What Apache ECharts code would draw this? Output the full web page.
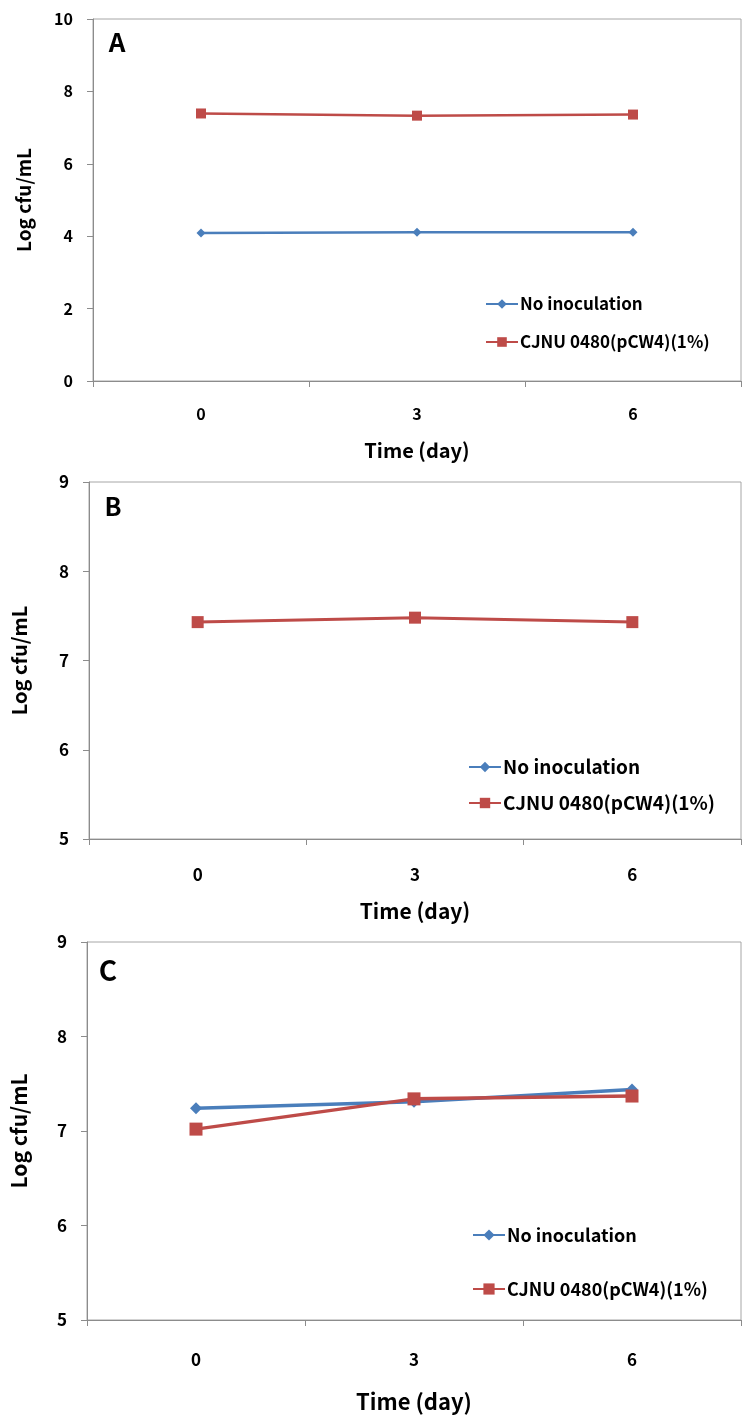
<!DOCTYPE html>
<html>
<head>
<meta charset="utf-8">
<script src="https://cdn.jsdelivr.net/npm/echarts@6/dist/echarts.min.js"></script>
<style>
  html, body { margin: 0; padding: 0; background: #fff; }
  #chart { width: 742px; height: 1423px; }
</style>
</head>
<body>
<div id="chart"></div>
<script>
// Sampling days (x categories)
const days = ['0', '3', '6'];

// Panel A
const aNoInoculation = [4.09, 4.11, 4.11];
const aCjnu = [7.39, 7.33, 7.36];
const aTicks = { min: 0, max: 10, interval: 2 };

// Panel B (no-inoculation counts not plotted)
const bNoInoculation = [];
const bCjnu = [7.43, 7.48, 7.43];
const bTicks = { min: 5, max: 9, interval: 1 };

// Panel C
const cNoInoculation = [7.24, 7.31, 7.44];
const cCjnu = [7.02, 7.34, 7.37];
const cTicks = { min: 5, max: 9, interval: 1 };

const panelLetters = ['A', 'B', 'C'];
const seriesNames = ['No inoculation', 'CJNU 0480(pCW4)(1%)'];

const FONT = '"Noto Sans CJK KR", "Noto Sans", sans-serif';
const BLUE = '#4A7EBB';
const RED = '#BE4B48';
const AXIS = '#8C8C8C';

// Layout of each panel
const panels = [
  { grid: { left: 93, top: 19, width: 648, height: 362 }, ticks: aTicks,
    blue: aNoInoculation, red: aCjnu, tickFont: 16, xFont: 20, yFont: 19,
    xMargin: 25, xNameGap: 59, yNameGap: 60, lw: 2.5, bSize: 9, rSize: 10,
    letter: { x: 117, y: 42, size: 26 },
    legend: { left: 485, y1: 304, y2: 342, font: 17, iconH: 12 } },
  { grid: { left: 89, top: 482, width: 652, height: 357 }, ticks: bTicks,
    blue: bNoInoculation, red: bCjnu, tickFont: 17, xFont: 21, yFont: 20,
    xMargin: 27, xNameGap: 62, yNameGap: 60, lw: 3, bSize: 10, rSize: 12,
    letter: { x: 113, y: 506, size: 25 },
    legend: { left: 468, y1: 767, y2: 803, font: 19, iconH: 13 } },
  { grid: { left: 87, top: 942, width: 654, height: 378 }, ticks: cTicks,
    blue: cNoInoculation, red: cCjnu, tickFont: 17, xFont: 22, yFont: 21,
    xMargin: 31, xNameGap: 71, yNameGap: 57, lw: 3.5, bSize: 12, rSize: 13,
    letter: { x: 108, y: 970, size: 28 },
    legend: { left: 472, y1: 1235, y2: 1289, font: 18, iconH: 14 } }
];

const grid = [], xAxis = [], yAxis = [], series = [], legend = [], graphic = [];

panels.forEach((p, i) => {
  grid.push(Object.assign({ show: true, borderColor: '#A6A6A6', borderWidth: 1,
    backgroundColor: 'transparent', containLabel: false }, p.grid));

  xAxis.push({
    type: 'category', gridIndex: i, data: days, boundaryGap: true,
    name: 'Time (day)', nameLocation: 'middle', nameGap: p.xNameGap,
    nameTextStyle: { fontFamily: FONT, fontWeight: 'bold', fontSize: p.xFont, color: '#000' },
    axisLine: { lineStyle: { color: AXIS, width: 1 } },
    axisTick: { show: true, length: 6, inside: false, alignWithLabel: false, lineStyle: { color: AXIS } },
    axisLabel: { fontFamily: FONT, fontWeight: 'bold', fontSize: p.tickFont, color: '#000', margin: p.xMargin },
    splitLine: { show: false }
  });

  yAxis.push({
    type: 'value', gridIndex: i, min: p.ticks.min, max: p.ticks.max, interval: p.ticks.interval,
    name: 'Log cfu/mL', nameLocation: 'middle', nameGap: p.yNameGap, nameRotate: 90,
    nameTextStyle: { fontFamily: FONT, fontWeight: 'bold', fontSize: p.yFont, color: '#000' },
    axisLine: { show: true, lineStyle: { color: AXIS, width: 1 } },
    axisTick: { show: true, length: 6, inside: false, lineStyle: { color: AXIS } },
    axisLabel: { fontFamily: FONT, fontWeight: 'bold', fontSize: p.tickFont, color: '#000', margin: 20 },
    splitLine: { show: false }
  });

  series.push({
    name: seriesNames[0], type: 'line', xAxisIndex: i, yAxisIndex: i, data: p.blue,
    symbol: 'diamond', symbolSize: p.bSize, showAllSymbol: true,
    lineStyle: { color: BLUE, width: p.lw }, itemStyle: { color: BLUE },
    emphasis: { disabled: true }, animation: false, z: 2
  });
  series.push({
    name: seriesNames[1], type: 'line', xAxisIndex: i, yAxisIndex: i, data: p.red,
    symbol: 'rect', symbolSize: p.rSize, showAllSymbol: true,
    lineStyle: { color: RED, width: p.lw }, itemStyle: { color: RED },
    emphasis: { disabled: true }, animation: false, z: 3
  });

  const L = p.legend;
  [L.y1, L.y2].forEach((y, k) => {
    legend.push({
      data: [seriesNames[k]], orient: 'vertical', left: L.left, top: y - 11,
      itemWidth: 32, itemHeight: L.iconH, itemGap: 0, selectedMode: false,
      textStyle: { fontFamily: FONT, fontWeight: 'bold', fontSize: L.font, color: '#000',
        lineHeight: 22, padding: [0, 0, 0, -3] },
      padding: 0
    });
  });

  graphic.push({
    type: 'text', x: p.letter.x, y: p.letter.y,
    style: { text: panelLetters[i], font: 'bold ' + p.letter.size + 'px ' + FONT,
      fill: '#000', align: 'center', verticalAlign: 'middle' }
  });
});

const chart = echarts.init(document.getElementById('chart'), null, { renderer: 'canvas' });
chart.setOption({
  backgroundColor: '#fff',
  animation: false,
  grid, xAxis, yAxis, series, legend, graphic
});
</script>
</body>
</html>
